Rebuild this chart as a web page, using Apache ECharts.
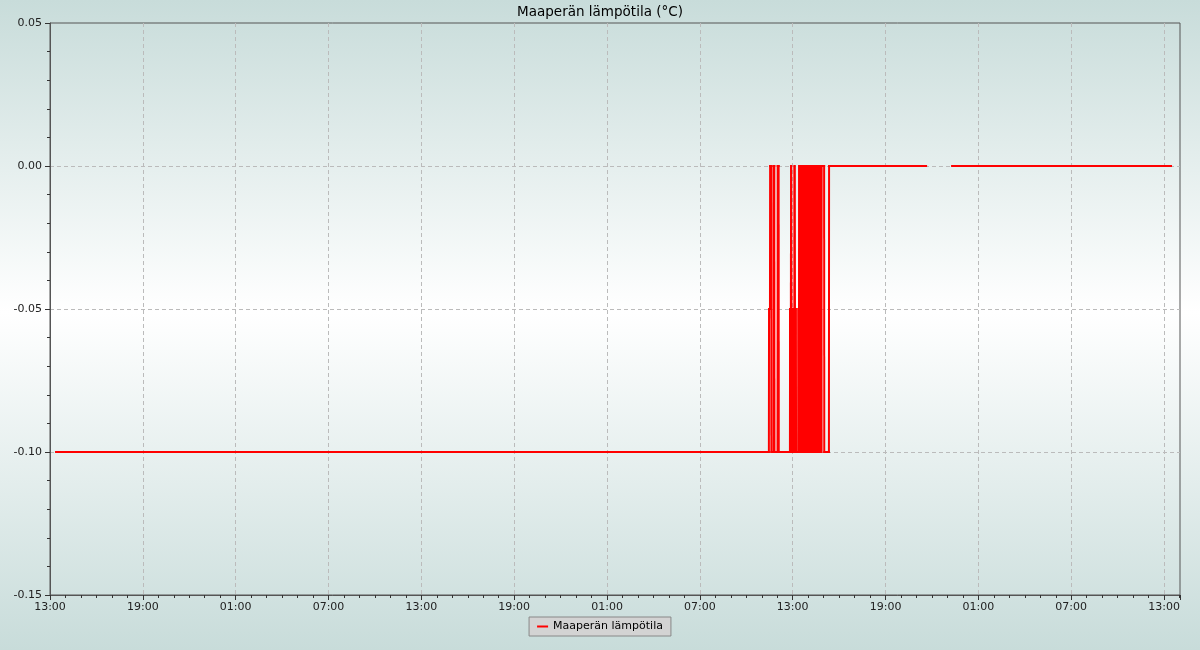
<!DOCTYPE html>
<html>
<head>
<meta charset="utf-8">
<script src="https://cdn.jsdelivr.net/npm/echarts@6/dist/echarts.min.js"></script>
<style>
html,body{margin:0;padding:0;background:#c8dcda;}
#chart{width:1200px;height:650px;}
</style>
</head>
<body>
<div id="chart"></div>
<script>
// Samples: hours since 13:00 on the first day, and soil temperature (°C)
const hours = [
  0.39, 46.46, 46.47, 46.53, 46.54, 46.61, 46.62, 46.75, 46.76, 46.81,
  46.82, 47.02, 47.03, 47.09, 47.10, 47.82,
  47.83, 47.855, 47.88, 47.90, 47.92, 47.945, 47.97, 47.995, 48.02, 48.045,
  48.07, 48.095, 48.12, 48.145, 48.17, 48.195, 48.22, 48.36,
  48.37, 48.395,
  48.42, 48.46, 48.49, 48.53, 48.56, 48.60, 48.63, 48.67, 48.70, 48.74,
  48.77, 48.81, 48.84, 48.88, 48.91, 48.95, 48.98, 49.02, 49.05, 49.09,
  49.12, 49.16, 49.19, 49.23, 49.26, 49.30, 49.33, 49.37, 49.40, 49.44,
  49.47, 49.51, 49.54, 49.58, 49.61, 49.65, 49.68, 49.72, 49.75, 49.79,
  49.82, 49.85, 49.87, 50.03,
  50.04, 50.34, 50.35, 56.62, 56.70, 58.30, 72.45
];
const temps = [
  -0.10, -0.10, -0.05, -0.05, 0.00, 0.00, -0.10, -0.10, 0.00, 0.00,
  -0.10, -0.10, 0.00, 0.00, -0.10, -0.10,
  -0.05, -0.10, -0.05, 0.00, -0.05, -0.10, -0.05, -0.10, -0.05, -0.10,
  -0.05, -0.10, 0.00, -0.05, -0.10, -0.05, -0.10, -0.10,
  -0.05, -0.10,
  0.00, -0.10, 0.00, -0.10, 0.00, -0.10, 0.00, -0.10, 0.00, -0.10,
  0.00, -0.10, 0.00, -0.10, 0.00, -0.10, 0.00, -0.10, 0.00, -0.10,
  0.00, -0.10, 0.00, -0.10, 0.00, -0.10, 0.00, -0.10, 0.00, -0.10,
  0.00, -0.10, 0.00, -0.10, 0.00, -0.10, 0.00, -0.10, 0.00, -0.10,
  0.00, -0.10, 0.00, 0.00,
  -0.10, -0.10, 0.00, 0.00, null, 0.00, 0.00
];
const startHour = 13;
const titleText = 'Maaperän lämpötila (°C)';
const seriesName = 'Maaperän lämpötila';

// consecutive sample pairs -> line segments (skipping the missing-data gap)
const segments = [];
for (let i = 1; i < hours.length; i++) {
  if (temps[i - 1] !== null && temps[i] !== null) {
    segments.push([hours[i - 1], temps[i - 1], hours[i], temps[i]]);
  }
}
const font = 'DejaVu Sans';
const pad = n => (n < 10 ? '0' : '') + n;

const chart = echarts.init(document.getElementById('chart'), null, {renderer: 'canvas'});
chart.setOption({
  animation: false,
  backgroundColor: {
    type: 'linear', x: 0, y: 0, x2: 0, y2: 1,
    colorStops: [
      {offset: 0, color: '#c8dcda'},
      {offset: 0.48, color: '#ffffff'},
      {offset: 1, color: '#c8dcda'}
    ]
  },
  title: {
    text: titleText, left: 'center', top: 5, padding: 0,
    textStyle: {fontFamily: font, fontSize: 13.5, fontWeight: 'normal', color: '#000'}
  },
  legend: {
    data: [seriesName], left: 'center', top: 617,
    icon: 'rect', itemWidth: 11, itemHeight: 2,
    backgroundColor: '#d3d3d3', borderColor: '#888', borderWidth: 1,
    padding: [4, 8], borderRadius: 0,
    textStyle: {fontFamily: font, fontSize: 11, color: '#000'}
  },
  grid: {
    left: 50, right: 20, top: 23, bottom: 55, containLabel: false,
    show: true, borderColor: '#555', borderWidth: 1, backgroundColor: 'transparent'
  },
  xAxis: {
    type: 'value', min: 0, max: 73.03, interval: 6,
    axisLine: {show: true, onZero: false, lineStyle: {color: '#555'}},
    axisTick: {show: true, length: 5, lineStyle: {color: '#333'}},
    minorTick: {show: true, splitNumber: 6, length: 3, lineStyle: {color: '#333'}},
    splitLine: {show: true, showMinLine: false, showMaxLine: false, lineStyle: {color: '#bbb', type: [4, 3]}},
    axisLabel: {
      fontFamily: font, fontSize: 11, color: '#222', margin: 7,
      formatter: v => pad((startHour + Math.round(v)) % 24) + ':00'
    }
  },
  yAxis: {
    type: 'value', min: -0.15, max: 0.05, interval: 0.05,
    axisLine: {show: true, onZero: false, lineStyle: {color: '#555'}},
    axisTick: {show: true, length: 5, lineStyle: {color: '#333'}},
    minorTick: {show: true, splitNumber: 5, length: 3, lineStyle: {color: '#333'}},
    splitLine: {show: true, showMinLine: false, showMaxLine: false, lineStyle: {color: '#bbb', type: [4, 3]}},
    axisLabel: {
      fontFamily: font, fontSize: 11, color: '#222', margin: 8,
      formatter: v => (Math.abs(v) < 1e-9 ? 0 : v).toFixed(2)
    }
  },
  series: [{
    name: seriesName, type: 'custom', data: segments,
    encode: {x: [0, 2], y: [1, 3]},
    itemStyle: {color: '#ff0000'},
    clip: true,
    renderItem: (params, api) => {
      const p1 = api.coord([api.value(0), api.value(1)]);
      const p2 = api.coord([api.value(2), api.value(3)]);
      return {
        type: 'line',
        shape: {x1: p1[0], y1: p1[1], x2: p2[0], y2: p2[1]},
        style: {stroke: '#ff0000', lineWidth: 2, lineCap: 'square'}
      };
    }
  }]
});
</script>
</body>
</html>
